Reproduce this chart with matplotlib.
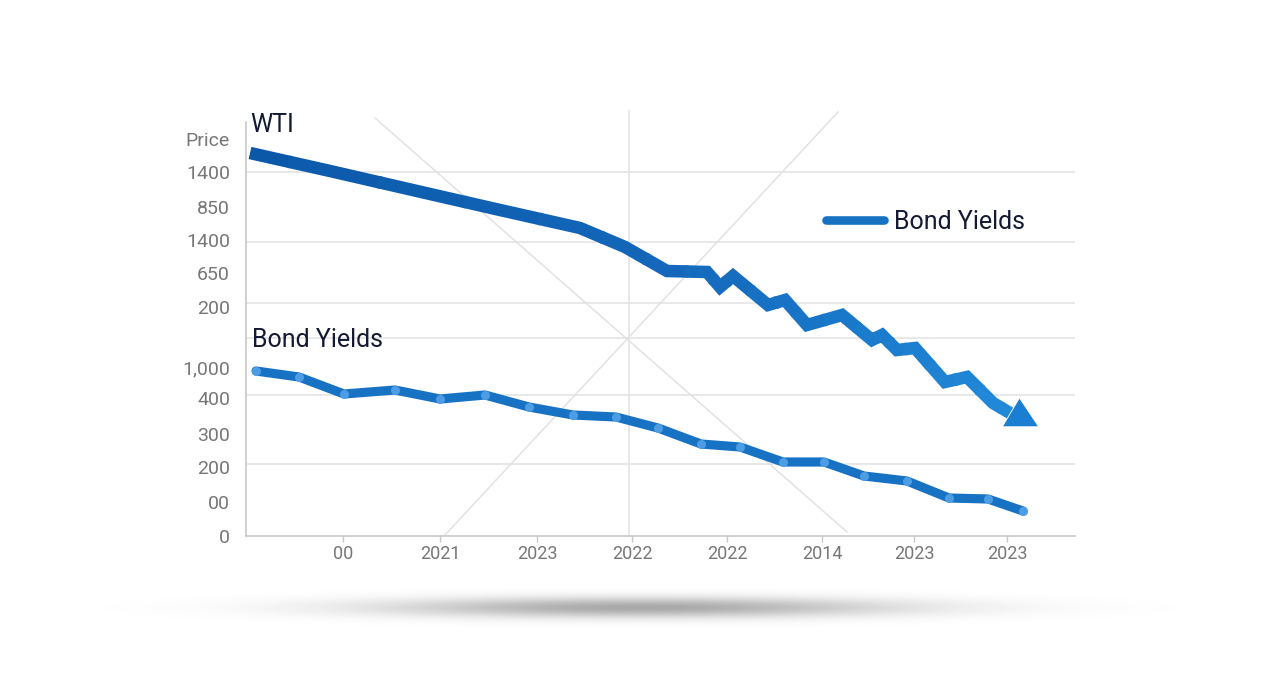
import numpy as np
import matplotlib

matplotlib.use("Agg")
import matplotlib.pyplot as plt
from matplotlib.collections import LineCollection
from matplotlib.colors import LinearSegmentedColormap
from matplotlib.lines import Line2D
from matplotlib.transforms import offset_copy

plt.rcParams["font.family"] = ["Roboto", "DejaVu Sans"]

# chart units: x = horizontal position, y = height above the x axis
wti_x = [4, 84, 184, 254, 334, 379, 421, 461, 474, 487, 522, 539, 561, 596,
         626, 636, 651, 669, 699, 721, 747, 764]
wti_y = [383, 365, 342, 326, 308, 289, 265, 264, 249, 260, 231, 236, 211, 221,
         196, 201, 186, 188, 154, 159, 133, 123]

bond_x = [10, 53, 98, 149, 194, 239, 283, 327, 370, 412, 455, 494, 537, 578,
          618, 661, 703, 742, 777]
bond_y = [165, 159, 142, 146, 137, 141, 129, 121, 119, 108, 92, 89, 74, 74,
          60, 55, 38, 37, 25]

x_ticks = [97, 194, 291, 386, 481, 576, 668, 761]
x_labels = ["00", "2021", "2023", "2022", "2022", "2014", "2023", "2023"]
y_ticks = [397, 364, 329, 296, 263, 229, 169, 138, 102, 69, 34, 0]
y_labels = ["Price", "1400", "850", "1400", "650", "200",
            "1,000", "400", "300", "200", "00", "0"]
grid_y = [364, 294, 233, 198, 141, 72]
grid_x = [383]
diag_a = ([129, 601], [418, 4])
diag_b = ([592, 199], [424, 1])

TICK_GREY = "#777777"
TEXT_DARK = "#141a33"
BOND_BLUE = "#1872c4"

W, H = 1280, 698
fig = plt.figure(figsize=(W / 100, H / 100), dpi=100)

# soft shadow under the chart
bg = fig.add_axes([0, 0, 1, 1], zorder=0)
gx, gy = np.meshgrid(np.arange(W), np.arange(H))
shade = np.exp(-((gx - 640) / 255.0) ** 2 - ((gy - 607) / 10.0) ** 2)
bg.imshow(1 - 0.34 * shade, cmap="gray", vmin=0, vmax=1, extent=(0, W, H, 0),
          aspect="auto", interpolation="bilinear")
bg.set_xlim(0, W)
bg.set_ylim(H, 0)
bg.axis("off")

ax = fig.add_axes([246 / W, (H - 536) / H, (1075 - 246) / W, (536 - 110) / H],
                  zorder=1)
ax.patch.set_alpha(0)
ax.set_xlim(0, 829)
ax.set_ylim(0, 426)

for gyv in grid_y:
    ax.axhline(gyv, color="#e4e4e4", lw=1.2, zorder=1)
for gxv in grid_x:
    ax.axvline(gxv, color="#e4e4e4", lw=1.2, zorder=1)
ax.plot(*diag_a, color="#e2e2e2", lw=1.1, zorder=1)
ax.plot(*diag_b, color="#e2e2e2", lw=1.1, zorder=1)

# WTI: thick line shading from dark to lighter blue; each vertex gets its own
# short mitred piece (half segment in, half segment out, slightly overlapping)
cmap = LinearSegmentedColormap.from_list(
    "wti", [(0, "#0b58a9"), (0.55, "#1467ba"), (0.8, "#1a79cb"), (1, "#2289d9")])
pts = np.column_stack([wti_x, wti_y]).astype(float)
seg = pts[1:] - pts[:-1]
unit = seg / np.linalg.norm(seg, axis=1)[:, None]
mid = (pts[:-1] + pts[1:]) / 2
pieces = []
for i in range(len(pts)):
    start = pts[0] if i == 0 else mid[i - 1] - 1.5 * unit[i - 1]
    end = pts[-1] if i == len(pts) - 1 else mid[i] + 1.5 * unit[i]
    pieces.append([start, pts[i], end])
lc = LineCollection(pieces, colors=cmap(pts[:, 0] / pts[:, 0].max()),
                    linewidths=9.0, capstyle="butt", joinstyle="miter", zorder=4)
ax.add_collection(lc)
arrow = [(-17, -13.5), (17, -13.5), (-1, 13.5), (-17, -13.5)]
ax.plot(wti_x[-1], wti_y[-1], marker=arrow, ms=25, color="#1a7fd2", mew=0,
        transform=offset_copy(ax.transData, fig, x=7, y=1, units="points"),
        zorder=5)

# Bond Yields
ax.plot(bond_x, bond_y, color=BOND_BLUE, lw=6.6, solid_capstyle="round",
        solid_joinstyle="round", zorder=3)
ax.plot(bond_x, bond_y, "o", ms=6.5, color="#4c9de3", mew=0, zorder=3.5)

ax.text(4, 411, "WTI", fontsize=18, color=TEXT_DARK, va="center", ha="left")
ax.text(6, 196, "Bond Yields", fontsize=18, color=TEXT_DARK, va="center", ha="left")

handle = Line2D([], [], color=BOND_BLUE, lw=6.2, solid_capstyle="round")
fig.legend(handles=[handle], labels=["Bond Yields"], loc="center left",
           bbox_to_anchor=(826 / W, 1 - 222 / H), frameon=False, fontsize=18,
           handlelength=2.3, handletextpad=0.4, borderpad=0, borderaxespad=0,
           labelcolor=TEXT_DARK)

ax.set_xticks(x_ticks, x_labels)
ax.set_yticks(y_ticks, y_labels)
ax.tick_params(axis="x", length=4.5, width=1, color="#c8c8c8", pad=2,
               labelsize=13, labelcolor=TICK_GREY)
ax.tick_params(axis="y", length=0, pad=11.5, labelsize=14, labelcolor=TICK_GREY)
for side in ("top", "right"):
    ax.spines[side].set_visible(False)
for side in ("left", "bottom"):
    ax.spines[side].set_color("#c8c8c8")
    ax.spines[side].set_linewidth(1.2)
ax.spines["left"].set_bounds(0, 414)

fig.savefig("out.png", dpi=100)
